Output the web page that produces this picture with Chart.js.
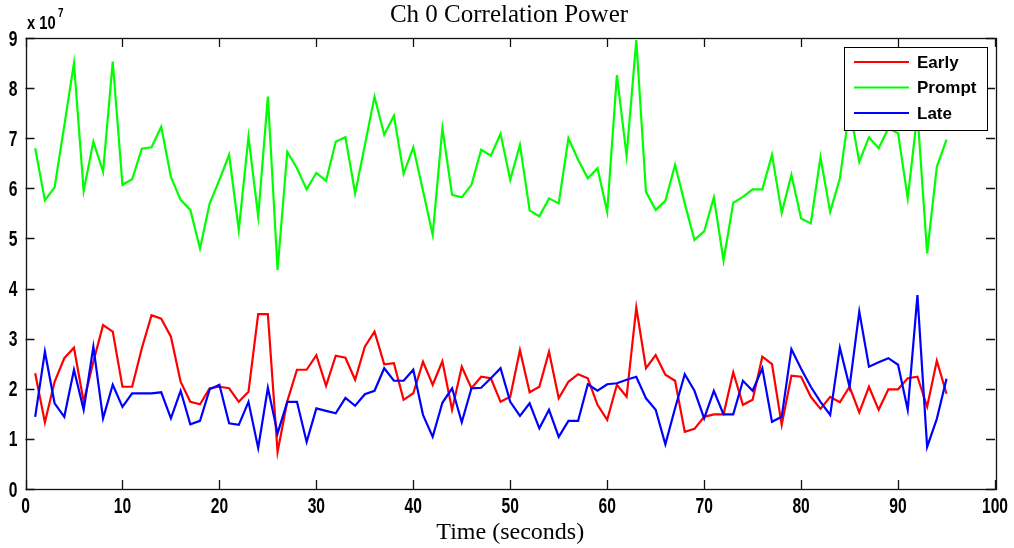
<!DOCTYPE html>
<html><head><meta charset="utf-8">
<script src="https://cdn.jsdelivr.net/npm/chart.js@4.4.0/dist/chart.umd.min.js"></script>
<style>html,body{margin:0;padding:0;background:#fff;overflow:hidden}</style>
</head><body>
<canvas id="c" width="1014" height="548"></canvas>
<script>
// ---- data (power values in units of 1e7) ----
const timeSec = [1,2,3,4,5,6,7,8,9,10,11,12,13,14,15,16,17,18,19,20,21,22,23,24,25,26,27,28,29,30,31,32,33,34,35,36,37,38,39,40,41,42,43,44,45,46,47,48,49,50,51,52,53,54,55,56,57,58,59,60,61,62,63,64,65,66,67,68,69,70,71,72,73,74,75,76,77,78,79,80,81,82,83,84,85,86,87,88,89,90,91,92,93,94,95];
const early = [2.31,1.33,2.14,2.61,2.82,1.74,2.54,3.27,3.14,2.04,2.04,2.81,3.47,3.40,3.04,2.14,1.74,1.69,2.01,2.04,
  2.01,1.74,1.94,3.49,3.49,0.74,1.75,2.38,2.38,2.67,2.06,2.66,2.62,2.18,2.84,3.14,2.49,2.51,1.78,1.91,
  2.54,2.08,2.55,1.58,2.44,2.01,2.24,2.21,1.74,1.84,2.77,1.93,2.04,2.74,1.81,2.14,2.29,2.21,1.68,1.38,
  2.08,1.84,3.62,2.41,2.67,2.28,2.16,1.14,1.20,1.44,1.49,1.49,2.33,1.68,1.78,2.64,2.49,1.28,2.26,2.24,
  1.84,1.60,1.84,1.73,2.04,1.53,2.04,1.58,1.99,1.99,2.21,2.24,1.64,2.56,1.90];
const prompt = [6.80,5.76,6.02,7.25,8.50,5.95,6.93,6.33,8.53,6.07,6.18,6.79,6.82,7.23,6.23,5.77,5.57,4.80,5.70,6.17,
  6.67,5.17,7.03,5.44,7.83,4.37,6.73,6.40,5.98,6.31,6.15,6.93,7.02,5.90,6.86,7.83,7.07,7.45,6.29,6.82,
  5.95,5.07,7.20,5.87,5.82,6.07,6.77,6.65,7.09,6.17,6.87,5.56,5.44,5.80,5.70,7.00,6.57,6.20,6.40,5.53,
  8.26,6.65,8.96,5.93,5.57,5.75,6.47,5.70,4.97,5.14,5.82,4.56,5.71,5.83,5.98,5.98,6.67,5.51,6.27,5.40,
  5.30,6.62,5.53,6.20,7.60,6.53,7.02,6.80,7.20,7.10,5.80,7.50,4.70,6.43,6.97];
const late = [1.44,2.74,1.71,1.44,2.38,1.58,2.84,1.41,2.08,1.64,1.91,1.91,1.91,1.93,1.41,1.96,1.29,1.36,1.99,2.08,
  1.31,1.28,1.74,0.82,2.02,1.11,1.74,1.74,0.94,1.61,1.56,1.51,1.82,1.66,1.89,1.96,2.41,2.16,2.16,2.38,
  1.48,1.04,1.72,2.01,1.33,2.01,2.02,2.21,2.41,1.74,1.46,1.71,1.21,1.58,1.04,1.36,1.36,2.09,1.96,2.09,
  2.11,2.18,2.24,1.81,1.58,0.89,1.61,2.29,1.96,1.41,1.96,1.49,1.49,2.16,1.96,2.41,1.34,1.44,2.79,2.40,
  2.04,1.74,1.48,2.82,2.04,3.54,2.44,2.53,2.61,2.48,1.58,3.87,0.84,1.40,2.20];
const xTicks = [0,10,20,30,40,50,60,70,80,90,100];
const yTicks = [0,1,2,3,4,5,6,7,8,9];
const seriesNames = ['Early','Prompt','Late'];
const seriesColors = ['#ff0000','#00ff00','#0000ff'];
const titleText = 'Ch 0 Correlation Power';
const xTitleText = 'Time (seconds)';
const yExpBase = 'x 10';
const yExpPow = '7';

const toPts = arr => arr.map((v,i)=>({x:timeSec[i], y:v}));
const seriesData = [early, prompt, late];

// condensed/tall bold text, like the bitmap axis font of the original
const LBL_FONT = "bold 17px 'Liberation Sans', Arial, sans-serif";
function tallText(ctx, txt, x, y, align, base, sx, sy, font){
  ctx.save();
  ctx.translate(x, y);
  ctx.scale(sx, sy);
  ctx.font = font;
  ctx.textAlign = align;
  ctx.textBaseline = base;
  ctx.fillText(txt, 0, 0);
  ctx.restore();
}

const decor = {
  id:'decor',
  afterDatasetsDraw(chart){
    const {ctx, chartArea:a, scales:{x,y}} = chart;
    ctx.save();
    ctx.strokeStyle = '#111';
    ctx.lineWidth = 1.3;
    ctx.beginPath();
    xTicks.forEach(v=>{
      const px = Math.round(x.getPixelForValue(v))+0.5;
      ctx.moveTo(px,a.bottom); ctx.lineTo(px,a.bottom-9);
      ctx.moveTo(px,a.top); ctx.lineTo(px,a.top+9);
    });
    yTicks.forEach(v=>{
      const py = Math.round(y.getPixelForValue(v))+0.5;
      ctx.moveTo(a.left,py); ctx.lineTo(a.left+9,py);
      ctx.moveTo(a.right,py); ctx.lineTo(a.right-9,py);
    });
    ctx.stroke();
    ctx.strokeRect(Math.round(a.left)+0.5, Math.round(a.top)+0.5, Math.round(a.right-a.left), Math.round(a.bottom-a.top));

    // tick labels (positions from the library scales)
    ctx.fillStyle = '#000';
    xTicks.forEach(v=>{
      tallText(ctx, String(v), x.getPixelForValue(v), a.bottom+24, 'center', 'alphabetic', 0.92, 1.27, LBL_FONT);
    });
    yTicks.forEach(v=>{
      tallText(ctx, String(v), a.left-8, y.getPixelForValue(v)+7.5, 'right', 'alphabetic', 0.92, 1.27, LBL_FONT);
    });

    // legend
    const lx = 844, ly = 47, lw = 143, lh = 83;
    ctx.fillStyle = '#fff';
    ctx.fillRect(lx, ly, lw, lh);
    ctx.lineWidth = 1;
    ctx.strokeStyle = '#000';
    ctx.strokeRect(lx+0.5, ly+0.5, lw, lh);
    ctx.font = "bold 17px 'Liberation Sans', Arial, sans-serif";
    ctx.textBaseline = 'middle';
    ctx.textAlign = 'left';
    seriesNames.forEach((n,i)=>{
      const yy = 62 + i*25.5;
      ctx.strokeStyle = seriesColors[i];
      ctx.lineWidth = 2;
      ctx.beginPath(); ctx.moveTo(854,yy); ctx.lineTo(909,yy); ctx.stroke();
      ctx.fillStyle = '#000';
      ctx.fillText(n, 917, yy+1);
    });

    // title
    ctx.font = "25px 'Liberation Serif', 'Times New Roman', serif";
    ctx.textAlign = 'center';
    ctx.textBaseline = 'alphabetic';
    ctx.fillText(titleText, 509, 22);

    // exponent
    tallText(ctx, yExpBase, 27, 29, 'left', 'alphabetic', 0.92, 1.2, "bold 16px 'Liberation Sans', Arial, sans-serif");
    tallText(ctx, yExpPow, 58, 17, 'left', 'alphabetic', 0.9, 1.2, "bold 11px 'Liberation Sans', Arial, sans-serif");
    ctx.restore();
  }
};

new Chart(document.getElementById('c'), {
  type:'line',
  data:{
    datasets: seriesData.map((d,i)=>({
      label: seriesNames[i],
      data: toPts(d),
      borderColor: seriesColors[i],
      backgroundColor: seriesColors[i],
      borderWidth: 2.2,
      pointRadius: 0,
      tension: 0,
      fill: false,
      order: 2 - i
    }))
  },
  options:{
    responsive:false,
    animation:false,
    devicePixelRatio:1,
    layout:{padding:{top:38,right:19,left:0,bottom:0}},
    plugins:{legend:{display:false}, tooltip:{enabled:false}, title:{display:false}},
    scales:{
      x:{
        type:'linear', min:0, max:100,
        afterBuildTicks: s => { s.ticks = xTicks.map(v=>({value:v})); },
        afterFit: s => { s.height = 59; },
        grid:{display:false, drawTicks:false},
        border:{display:false},
        ticks:{display:false},
        title:{display:true, text:xTitleText, color:'#000',
          font:{family:"'Liberation Serif','Times New Roman',serif", size:24},
          padding:{top:0,bottom:1}}
      },
      y:{
        type:'linear', min:0, max:9,
        afterBuildTicks: s => { s.ticks = yTicks.map(v=>({value:v})); },
        afterFit: s => { s.width = 25.5; },
        grid:{display:false, drawTicks:false},
        border:{display:false},
        ticks:{display:false}
      }
    }
  },
  plugins:[decor]
});
</script>
</body></html>
